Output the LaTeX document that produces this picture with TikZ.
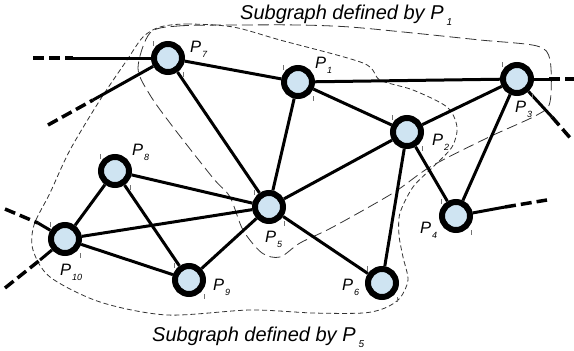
\documentclass[tikz,border=0pt]{standalone}
\usepackage{fontspec}
\setmainfont{Liberation Sans}
\usetikzlibrary{positioning}

\definecolor{nodefill}{RGB}{207,228,242}
\newcommand{\plab}[1]{\fontsize{16.5}{16.5}\selectfont\itshape P\kern1pt\raisebox{-5pt}{\fontsize{9}{9}\selectfont #1}}
\newcommand{\sgtitle}[1]{\fontsize{20}{20}\selectfont\itshape Subgraph defined by P\kern3pt\raisebox{-6pt}{\fontsize{10}{10}\selectfont #1}}

\begin{document}
\begin{tikzpicture}[x=1pt, y=-1pt,
	pnode/.style={draw, circle, line width=6pt, minimum size=28pt, inner sep=0pt, fill=nodefill},
	link/.style={line width=3pt},
	stub/.style={line width=3.5pt, dash pattern=on 11pt off 5pt},
	tick/.style={black!55, line width=0.8pt},
	plabel/.style={anchor=base west, inner sep=0pt},
	regionA/.style={line width=0.8pt, black!80, dash pattern=on 11pt off 5pt},
	regionB/.style={line width=0.8pt, black!80, dash pattern=on 5pt off 3pt}]
	\useasboundingbox (0,0) rectangle (574,351);

	% subgraph outlines
	\draw[regionA] plot[smooth cycle] coordinates {
		(150,33) (178,26) (240,25) (300,25) (350,27) (413,33) (480,40) (537,46)
		(550,60) (550,102) (537,115) (487,138) (430,167) (393,193) (333,227)
		(300,243) (280,257) (262,253) (243,230) (230,197) (213,178) (173,127)
		(150,95) (138,68)};
	\draw[regionB] plot[smooth cycle] coordinates {
		(160,27) (187,24) (233,27) (280,40) (363,63) (380,80) (413,90) (447,107)
		(457,127) (452,147) (433,167) (413,187) (400,213) (399,235) (403,257)
		(408,280) (400,298) (385,308) (363,313) (313,313) (250,310) (167,315)
		(100,302) (50,277) (33,250) (34,225) (50,193) (70,150) (100,100)
		(127,60) (143,37)};

	% points
	\node[pnode] (p7) at (168,58) {};
	\node[pnode] (p1) at (298,82) {};
	\node[pnode] (p2) at (407,132) {};
	\node[pnode] (p3) at (517,79) {};
	\node[pnode] (p4) at (456,216) {};
	\node[pnode] (p5) at (269,207) {};
	\node[pnode] (p6) at (382,283) {};
	\node[pnode] (p8) at (115,171) {};
	\node[pnode] (p9) at (189,280) {};
	\node[pnode] (p10) at (65,239) {};

	% links
	\draw[link] (p7) -- (p1);
	\draw[link] (p7) -- (p5);
	\draw[link] (p1) -- (p3);
	\draw[link] (p1) -- (p2);
	\draw[link] (p1) -- (p5);
	\draw[link] (p2) -- (p3);
	\draw[link] (p2) -- (p5);
	\draw[link] (p2) -- (p6);
	\draw[link] (p2) -- (p4);
	\draw[link] (p3) -- (p4);
	\draw[link] (p5) -- (p8);
	\draw[link] (p5) -- (p10);
	\draw[link] (p5) -- (p9);
	\draw[link] (p5) -- (p6);
	\draw[link] (p8) -- (p10);
	\draw[link] (p8) -- (p9);
	\draw[link] (p10) -- (p9);

	% links leaving the picture
	\coordinate (m7a) at (73,58);   \coordinate (e7a) at (33,58);
	\coordinate (m7b) at (93,100);  \coordinate (e7b) at (48,125);
	\coordinate (m3a) at (549,79);  \coordinate (e3a) at (574,79);
	\coordinate (m3b) at (552,117); \coordinate (e3b) at (572,140);
	\coordinate (m4) at (505,207);  \coordinate (e4) at (547,200);
	\coordinate (m10a) at (38,223); \coordinate (e10a) at (5,209);
	\coordinate (m10b) at (40,260); \coordinate (e10b) at (5,288);
	\draw[link] (p7) -- (m7a);   \draw[stub] (e7a) -- (m7a);
	\draw[link] (p7) -- (m7b);   \draw[stub] (e7b) -- (m7b);
	\draw[link] (p3) -- (m3a);   \draw[stub] (m3a) -- (e3a);
	\draw[link] (p3) -- (m3b);   \draw[stub] (m3b) -- (e3b);
	\draw[link] (p4) -- (m4);    \draw[stub] (m4) -- (e4);
	\draw[link] (p10) -- (m10a); \draw[stub] (e10a) -- (m10a);
	\draw[link] (p10) -- (m10b); \draw[stub] (e10b) -- (m10b);

	% handles
	\foreach \n in {p1,p2,p3,p4,p5,p6,p7,p8,p9,p10} {
		\draw[tick] ([shift={(-15,-17)}]\n.center) -- ++(0,5);
		\draw[tick] ([shift={(15,14)}]\n.center) -- ++(0,5);
	}

	% labels
	\node[plabel] (l7) at (190,52) {\plab{7}};
	\node[plabel] (l1) at (315,68) {\plab{1}};
	\node[plabel] (l8) at (132,155) {\plab{8}};
	\node[plabel] (l2) at (432,145) {\plab{2}};
	\node[plabel] (l3) at (515,112) {\plab{3}};
	\node[plabel] (l4) at (420,233) {\plab{4}};
	\node[plabel] (l5) at (265,242) {\plab{5}};
	\node[plabel] (l6) at (342,290) {\plab{6}};
	\node[plabel] (l9) at (213,290) {\plab{9}};
	\node[plabel] (l10) at (60,275) {\plab{10}};

	\node[plabel] (t1) at (240,19) {\sgtitle{1}};
	\node[plabel] (t5) at (152,341) {\sgtitle{5}};
\end{tikzpicture}
\end{document}
